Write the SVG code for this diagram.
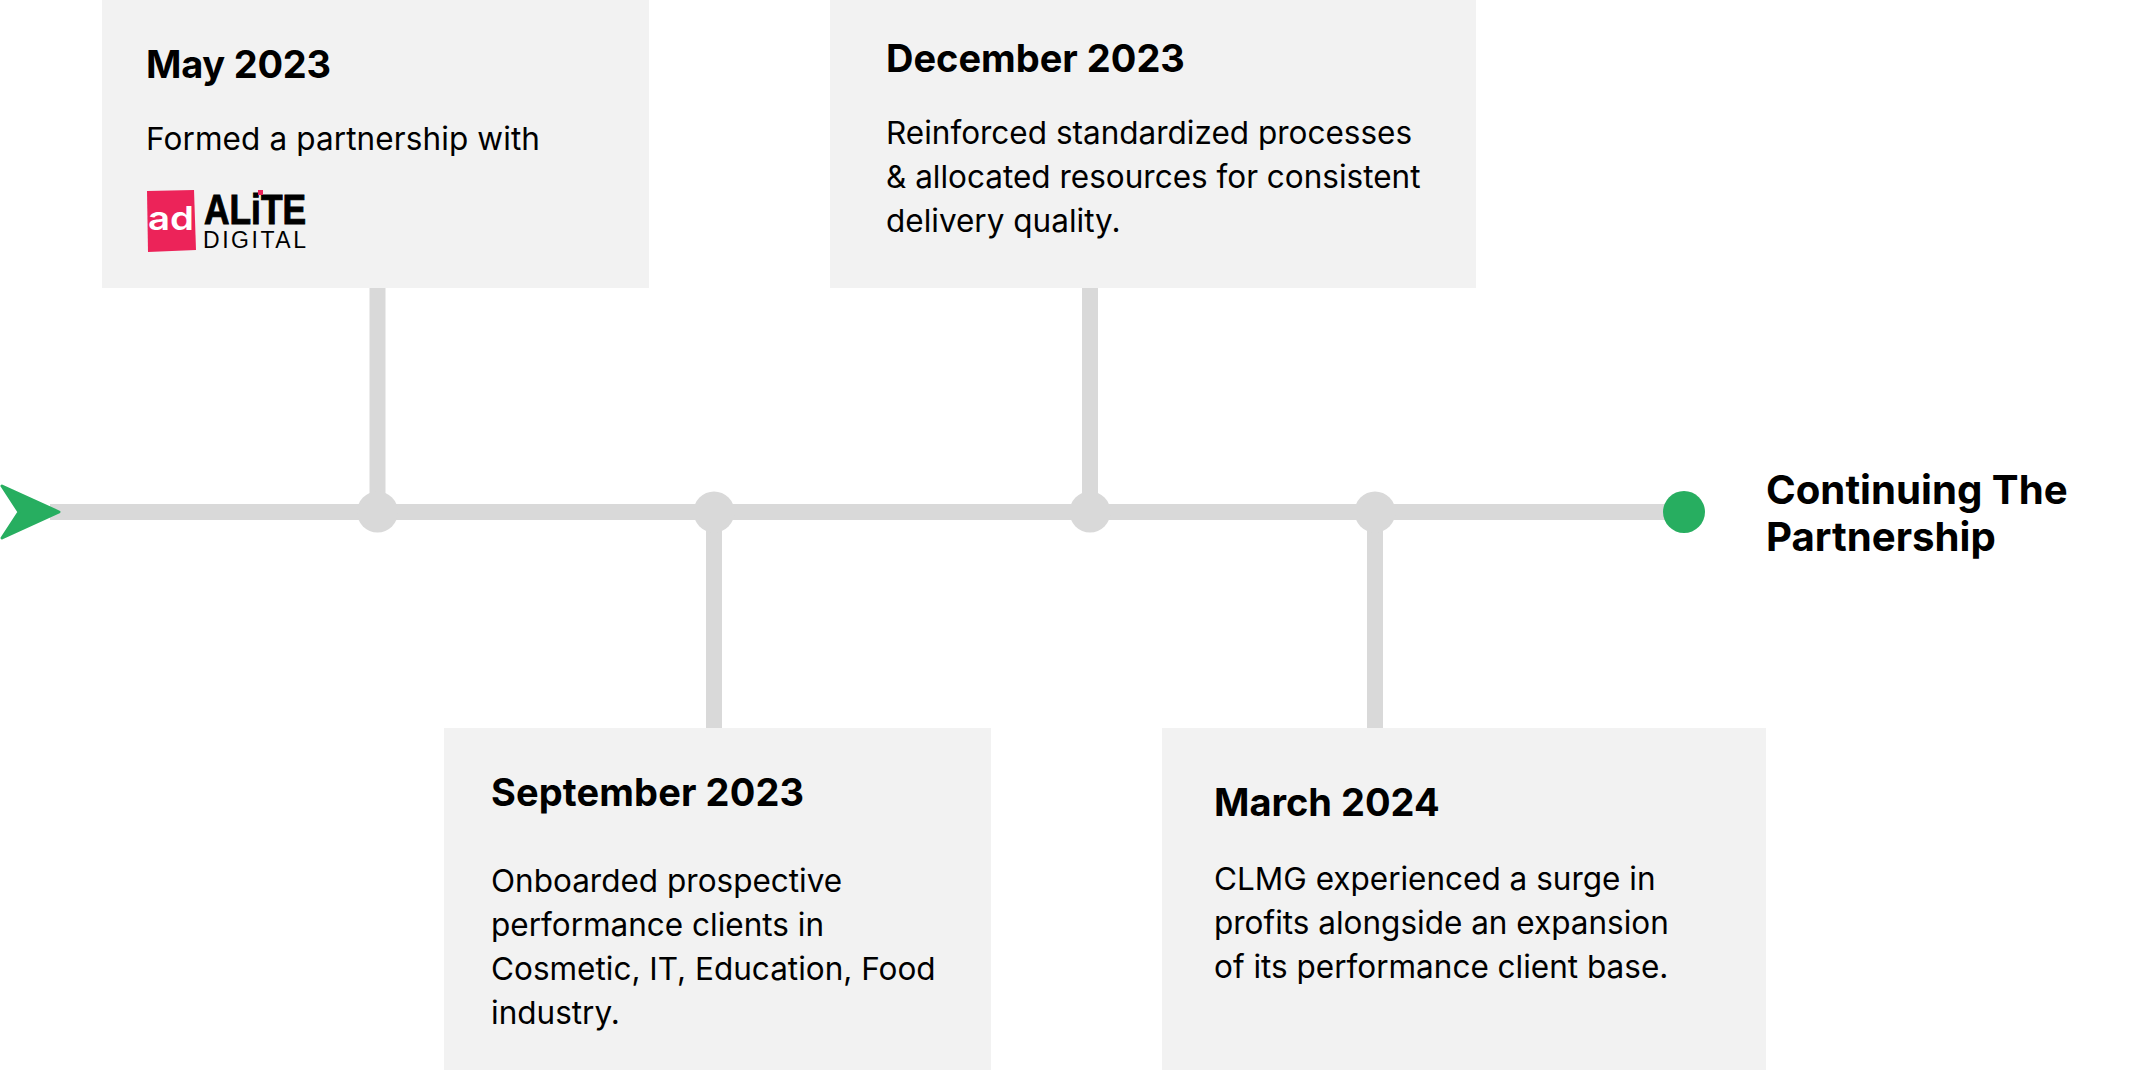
<svg xmlns="http://www.w3.org/2000/svg" width="2156" height="1070" viewBox="0 0 2156 1070">
<style>
.card{fill:#f2f2f2}
.t{font-family:Inter,"Liberation Sans",sans-serif;font-weight:700;font-size:38px;fill:#000}
.c{font-size:40.200px}
.b{font-family:Inter,"Liberation Sans",sans-serif;font-weight:400;font-size:31.500px;fill:#000}
.line{stroke:#d9d9d9;stroke-width:16;fill:none}
.dot{fill:#d9d9d9}
.green{fill:#27ae60}
.lg{font-family:"Liberation Sans",sans-serif}
</style>
<rect width="2156" height="1070" fill="#fff"/>
<g id="connectors">
<path class="line" d="M50 512H1684M377.500 288V512M714 512V728M1090 288V512M1375 512V728"/>
</g>
<g id="start"><path class="green" stroke="#27ae60" stroke-width="3" stroke-linejoin="round" d="M2 486L59 512L2 538L19 512Z"/></g>
<g id="dot1"><circle class="dot" cx="377.500" cy="512" r="20.500"/></g>
<g id="dot2"><circle class="dot" cx="714" cy="512" r="20.500"/></g>
<g id="dot3"><circle class="dot" cx="1090" cy="512" r="20.500"/></g>
<g id="dot4"><circle class="dot" cx="1375" cy="512" r="20.500"/></g>
<g id="end"><circle class="green" cx="1684" cy="512" r="21"/></g>
<g id="may"><rect class="card" x="102" y="0" width="547" height="288"/>
<text class="t" x="146" y="78" textLength="185">May 2023</text>
<text class="b" x="146" y="150" textLength="394">Formed a partnership with</text>
<g id="logo"><path fill="#ec2359" d="M147 191L194 190L196 250L148 252Z"/>
<text x="148" y="230" font-family="Inter,sans-serif" font-weight="600" font-size="33" fill="#fff" textLength="46" lengthAdjust="spacingAndGlyphs">ad</text>
<text class="lg" x="204" y="224" font-weight="700" font-size="42" fill="#000" stroke="#000" stroke-width="1" textLength="102" lengthAdjust="spacingAndGlyphs">ALiTE</text>
<rect x="258" y="190" width="5" height="5" fill="#ec2359"/>
<text class="lg" x="203" y="248" font-size="23" fill="#000" textLength="103">DIGITAL</text></g></g>
<g id="dec"><rect class="card" x="830" y="0" width="646" height="288"/>
<text class="t" x="886" y="72">December 2023</text>
<text class="b" x="886" y="144">Reinforced standardized processes</text>
<text class="b" x="886" y="188">&amp; allocated resources for consistent</text>
<text class="b" x="886" y="232">delivery quality.</text></g>
<g id="sep"><rect class="card" x="444" y="728" width="547" height="342"/>
<text class="t" x="491" y="806" textLength="313">September 2023</text>
<text class="b" x="491" y="892">Onboarded prospective</text>
<text class="b" x="491" y="936">performance clients in</text>
<text class="b" x="491" y="980">Cosmetic, IT, Education, Food</text>
<text class="b" x="491" y="1024">industry.</text></g>
<g id="mar"><rect class="card" x="1162" y="728" width="604" height="342"/>
<text class="t" x="1214" y="816">March 2024</text>
<text class="b" x="1214" y="890">CLMG experienced a surge in</text>
<text class="b" x="1214" y="934">profits alongside an expansion</text>
<text class="b" x="1214" y="978">of its performance client base.</text></g>
<g id="cont"><text class="t c" x="1766" y="504">Continuing The</text>
<text class="t c" x="1766" y="551">Partnership</text></g>
</svg>
